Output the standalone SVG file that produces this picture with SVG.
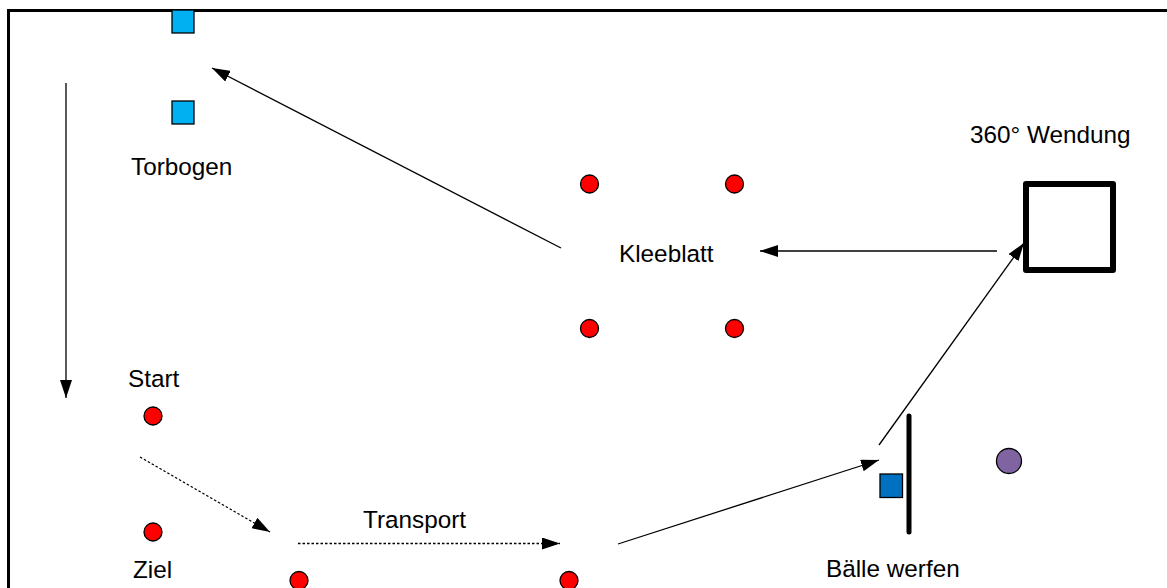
<svg xmlns="http://www.w3.org/2000/svg" width="1167" height="588" viewBox="0 0 1167 588">
<defs>
<style>
text{font-family:"Liberation Sans",Arial,sans-serif;font-size:24.3px;fill:#000}
.red{fill:#ff0000;stroke:#000;stroke-width:1.3}
.lb{fill:#00b0f0;stroke:#000;stroke-width:1.3}
.ln{stroke:#000;stroke-width:1.3;fill:none}
.dot{stroke:#000;stroke-width:1.3;fill:none;stroke-dasharray:2.5 2}
</style>
<marker id="ah" viewBox="0 0 18 12" refX="18" refY="6" markerWidth="18" markerHeight="12" markerUnits="userSpaceOnUse" orient="auto">
<path d="M0,0 L18,6 L0,12 Z" fill="#000"/>
</marker>
</defs>
<rect x="0" y="0" width="1167" height="588" fill="#fff"/>
<rect id="frame" x="8.5" y="10.5" width="1180" height="600" fill="none" stroke="#000" stroke-width="3"/>
<g id="torbogen">
<rect class="lb" x="172" y="10" width="22" height="23"/>
<rect class="lb" x="172" y="101" width="22" height="23"/>
<text x="131" y="175">Torbogen</text>
</g>
<g id="kleeblatt">
<circle class="red" cx="589.5" cy="184" r="9"/>
<circle class="red" cx="734.5" cy="184" r="9"/>
<circle class="red" cx="589.5" cy="328.5" r="9"/>
<circle class="red" cx="734.5" cy="328.5" r="9"/>
<text x="619" y="262">Kleeblatt</text>
</g>
<g id="wendung">
<rect x="1026" y="184" width="87" height="86" fill="none" stroke="#000" stroke-width="6" stroke-linejoin="round"/>
<text x="970" y="143">360° Wendung</text>
</g>
<g id="start">
<circle class="red" cx="153" cy="416" r="9"/>
<text x="128" y="387">Start</text>
</g>
<g id="ziel">
<circle class="red" cx="153" cy="532" r="9"/>
<text x="133" y="578">Ziel</text>
</g>
<g id="transport">
<circle class="red" cx="299" cy="580.5" r="9"/>
<circle class="red" cx="569" cy="580.5" r="9"/>
<text x="363" y="528">Transport</text>
</g>
<g id="baelle">
<line x1="909" y1="416" x2="909" y2="532" stroke="#000" stroke-width="5" stroke-linecap="round"/>
<rect x="880" y="474" width="22.5" height="23.5" fill="#0070c0" stroke="#000" stroke-width="1.3"/>
<circle cx="1009" cy="461" r="12.5" fill="#8064a2" stroke="#000" stroke-width="1.3"/>
<text x="826" y="577">Bälle werfen</text>
</g>
<g id="connectors">
<line class="ln" x1="66" y1="83" x2="66" y2="398" marker-end="url(#ah)"/>
<line class="ln" x1="561" y1="248" x2="212" y2="68" marker-end="url(#ah)"/>
<line class="ln" x1="997" y1="251" x2="760" y2="251" marker-end="url(#ah)"/>
<line class="ln" x1="879" y1="445" x2="1024" y2="243" marker-end="url(#ah)"/>
<line class="ln" x1="618" y1="544" x2="879" y2="460" marker-end="url(#ah)"/>
<line class="dot" x1="140" y1="457" x2="270" y2="532" marker-end="url(#ah)"/>
<line class="dot" x1="298" y1="543.5" x2="560" y2="543.5" marker-end="url(#ah)"/>
</g>
</svg>
